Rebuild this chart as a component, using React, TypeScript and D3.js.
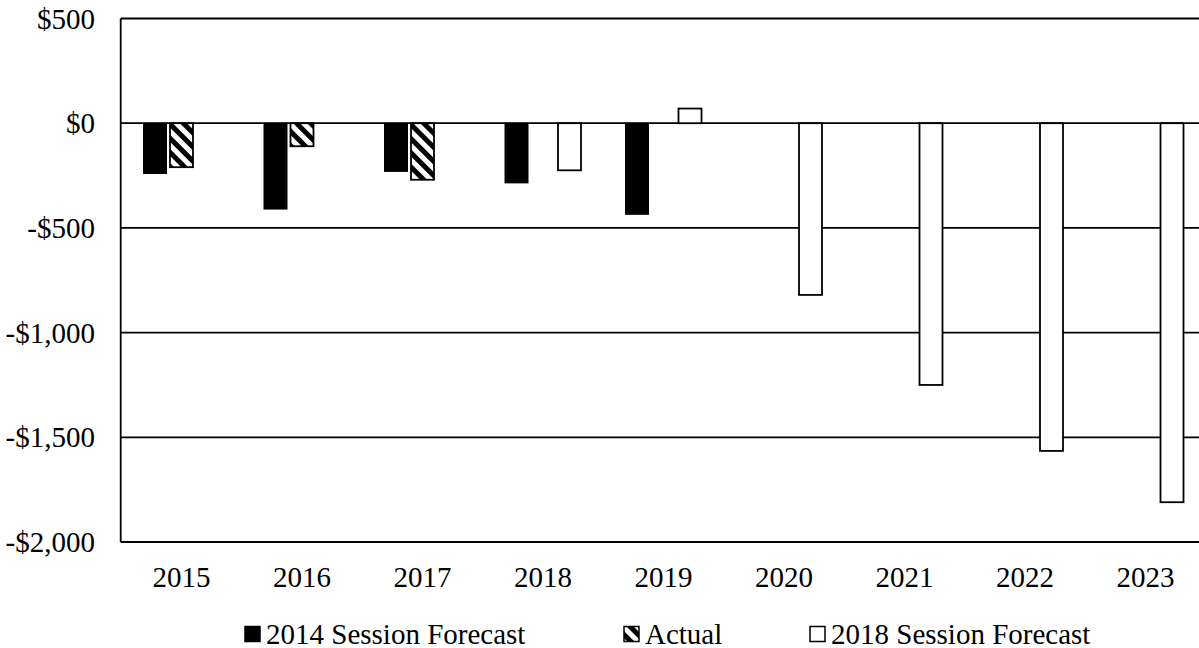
import React from "react";
import * as d3 from "d3";

const years = ["2015", "2016", "2017", "2018", "2019", "2020", "2021", "2022", "2023"];
const seriesNames = ["2014 Session Forecast", "Actual", "2018 Session Forecast"];
const forecast2014: (number | null)[] = [-240, -410, -230, -285, -435, null, null, null, null];
const actual: (number | null)[] = [-210, -110, -270, null, null, null, null, null, null];
const forecast2018: (number | null)[] = [null, null, null, -225, 70, -820, -1250, -1565, -1810];
const yTicks = [500, 0, -500, -1000, -1500, -2000];

const W = 1199;
const H = 648;
const FONT = "Liberation Serif, Times New Roman, Tinos, DejaVu Serif, serif";
const textStyle = { fontFamily: FONT, fontSize: "29px" };

const fills = ["#000", "url(#hatch)", "#fff"];
const seriesValues = [forecast2014, actual, forecast2018];

const fmtNum = d3.format(",");
const fmtMoney = (v: number) => (v < 0 ? "-$" + fmtNum(-v) : "$" + fmtNum(v));

export default function App() {
  const x = d3.scaleBand<string>().domain(years).range([121.25, 1205.75]);
  const xs = d3.scaleBand<string>().domain(seriesNames).range([-38, 38]).paddingInner(0.132);
  const y = d3.scaleLinear().domain([-2000, 500]).range([542, 18.5]);
  const axisX = 120.7;

  const bars: { key: string; x: number; y: number; w: number; h: number; fill: string; s: number }[] = [];
  seriesValues.forEach((vals, s) => {
    vals.forEach((v, i) => {
      if (v === null) return;
      const cx = (x(years[i]) as number) + x.bandwidth() / 2;
      const bx = cx + (xs(seriesNames[s]) as number);
      const y0 = y(0);
      const y1 = y(v);
      bars.push({
        key: `${s}-${i}`,
        x: bx,
        y: Math.min(y0, y1),
        w: xs.bandwidth(),
        h: Math.abs(y1 - y0),
        fill: fills[s],
        s,
      });
    });
  });

  const legend = [
    { name: seriesNames[0], mx: 245, fill: fills[0] },
    { name: seriesNames[1], mx: 624, fill: fills[1] },
    { name: seriesNames[2], mx: 810, fill: fills[2] },
  ];

  return (
    <svg
      width={W}
      height={H}
      style={{ position: "absolute", left: 0, top: 0, background: "#fff" }}
    >
      <defs>
        <pattern
          id="hatch"
          patternUnits="userSpaceOnUse"
          width={10}
          height={10}
          patternTransform="rotate(-45)"
        >
          <rect x={0} y={0} width={10} height={10} fill="#fff" />
          <rect x={0} y={0} width={5} height={10} fill="#000" />
        </pattern>
      </defs>

      {/* horizontal gridlines */}
      {yTicks.map((t) => (
        <line
          key={t}
          x1={axisX}
          x2={W + 10}
          y1={y(t)}
          y2={y(t)}
          stroke="#000"
          strokeWidth={1.8}
        />
      ))}
      {/* value axis line */}
      <line x1={axisX} x2={axisX} y1={y(500)} y2={y(-2000)} stroke="#000" strokeWidth={1.8} />

      {/* bars */}
      {bars.map((b) => (
        <rect
          key={b.key}
          x={b.x}
          y={b.y}
          width={b.w}
          height={b.h}
          fill={b.fill}
          stroke="#000"
          strokeWidth={b.s === 0 ? 1 : 1.8}
        />
      ))}

      {/* y tick labels */}
      {yTicks.map((t) => (
        <text key={t} x={95} y={y(t) + 10} textAnchor="end" style={textStyle} fill="#000">
          {fmtMoney(t)}
        </text>
      ))}

      {/* category labels */}
      {years.map((yr) => (
        <text
          key={yr}
          x={(x(yr) as number) + x.bandwidth() / 2}
          y={586.5}
          textAnchor="middle"
          style={textStyle}
          fill="#000"
        >
          {yr}
        </text>
      ))}

      {/* legend */}
      {legend.map((l) => (
        <g key={l.name}>
          <rect
            x={l.mx}
            y={626.5}
            width={15}
            height={15}
            fill={l.fill}
            stroke="#000"
            strokeWidth={1.5}
          />
          <text x={l.mx + 21} y={643.5} style={textStyle} fill="#000">
            {l.name}
          </text>
        </g>
      ))}
    </svg>
  );
}
